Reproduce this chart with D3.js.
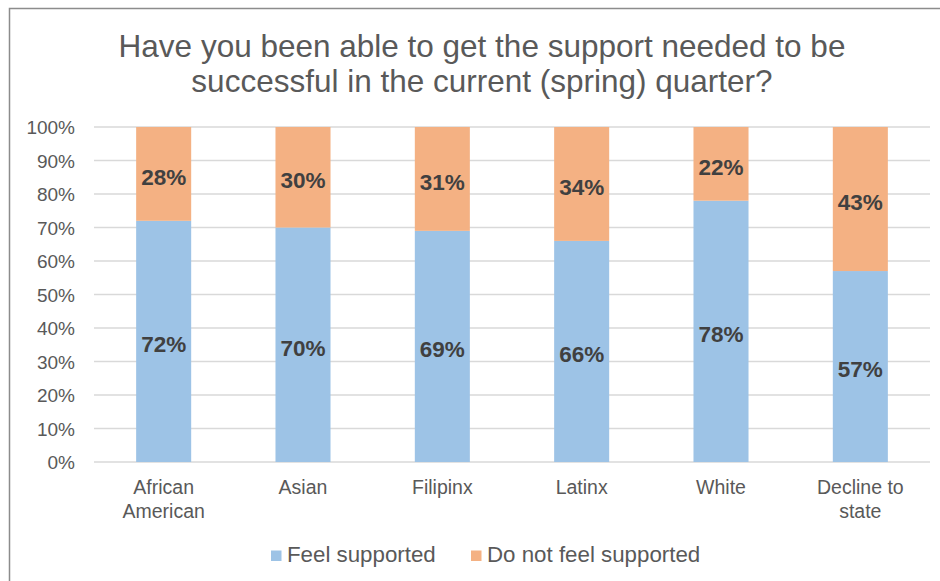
<!DOCTYPE html>
<html>
<head>
<meta charset="utf-8">
<script src="https://cdn.jsdelivr.net/npm/d3@7"></script>
<style>
  html, body { margin: 0; padding: 0; background: #fff; }
  svg { display: block; font-family: Arial, "Liberation Sans", sans-serif; }
</style>
</head>
<body>
<svg id="chart" width="940" height="581"></svg>
<script>
const categories = [["African", "American"], ["Asian"], ["Filipinx"], ["Latinx"], ["White"], ["Decline to", "state"]];
const feelSupported = [72, 70, 69, 66, 78, 57];
const notSupported = [28, 30, 31, 34, 22, 43];
const seriesNames = ["Feel supported", "Do not feel supported"];
const seriesColors = ["#9DC3E6", "#F4B183"];
const yTicks = [0, 10, 20, 30, 40, 50, 60, 70, 80, 90, 100];
const titleLines = ["Have you been able to get the support needed to be", "successful in the current (spring) quarter?"];

const svg = d3.select("#chart");
const textColor = "#595959";

// outer frame
svg.append("rect")
  .attr("x", 9.5).attr("y", 8.5).attr("width", 940).attr("height", 590)
  .attr("fill", "#fff").attr("stroke", "#8c8c8c").attr("stroke-width", 1.5);

const plot = { left: 94, right: 930, top: 127, bottom: 462 };
const x = d3.scaleBand().domain(d3.range(categories.length)).range([plot.left, plot.right]).padding(0);
const y = d3.scaleLinear().domain([0, 100]).range([plot.bottom, plot.top]);
const barW = x.bandwidth() * 0.395;

// gridlines
svg.append("g").selectAll("line").data(yTicks).join("line")
  .attr("x1", plot.left).attr("x2", plot.right)
  .attr("y1", d => y(d)).attr("y2", d => y(d))
  .attr("stroke", "#D9D9D9").attr("stroke-width", 1.3);

// y axis labels
const yAxis = d3.axisLeft(y).tickValues(yTicks).tickFormat(d => d + "%").tickSize(0).tickPadding(0);
const yg = svg.append("g").attr("transform", `translate(75,0)`).call(yAxis);
yg.select(".domain").remove();
yg.selectAll("text").attr("fill", textColor).style("font-size", "19px").attr("dy", "0.35em");

// stacked data
const stackData = categories.map((c, i) => ({ i, a: feelSupported[i], b: notSupported[i] }));
const stack = d3.stack().keys(["a", "b"])(stackData);

const groups = svg.append("g").selectAll("g").data(stack).join("g")
  .attr("fill", (d, k) => seriesColors[k]);
groups.selectAll("rect").data(d => d).join("rect")
  .attr("x", d => x(d.data.i) + (x.bandwidth() - barW) / 2)
  .attr("width", barW)
  .attr("y", d => y(d[1]))
  .attr("height", d => y(d[0]) - y(d[1]));

// data labels
stack.forEach((s, k) => {
  svg.append("g").selectAll("text").data(s).join("text")
    .attr("x", d => x(d.data.i) + x.bandwidth() / 2)
    .attr("y", d => (y(d[0]) + y(d[1])) / 2 + 3)
    .attr("text-anchor", "middle")
    .attr("dy", "0.35em")
    .attr("fill", "#404040")
    .style("font-size", "22.5px").style("font-weight", "bold")
    .text(d => (d[1] - d[0]) + "%");
});

// category labels
const cg = svg.append("g").selectAll("text").data(categories).join("text")
  .attr("text-anchor", "middle")
  .attr("fill", textColor).style("font-size", "19.5px")
  .attr("x", (d, i) => x(i) + x.bandwidth() / 2)
  .attr("y", 494);
cg.selectAll("tspan").data(d => d).join("tspan")
  .attr("x", function() { return d3.select(this.parentNode).attr("x"); })
  .attr("dy", (d, j) => j === 0 ? 0 : 23.5)
  .text(d => d);

// title
svg.append("g").selectAll("text").data(titleLines).join("text")
  .attr("x", 482).attr("y", (d, i) => 56.5 + i * 35)
  .attr("text-anchor", "middle")
  .attr("fill", textColor).style("font-size", "31.5px")
  .text(d => d);

// legend
const legendX = [271, 471];
const lg = svg.append("g").selectAll("g").data(seriesNames).join("g")
  .attr("transform", (d, i) => `translate(${legendX[i]},0)`);
lg.append("rect").attr("x", 0).attr("y", 550.5).attr("width", 10.5).attr("height", 10.5)
  .attr("fill", (d, i) => seriesColors[i]);
lg.append("text").attr("x", 16).attr("y", 561.5)
  .attr("fill", textColor).style("font-size", "22.3px")
  .text(d => d);
</script>
</body>
</html>
